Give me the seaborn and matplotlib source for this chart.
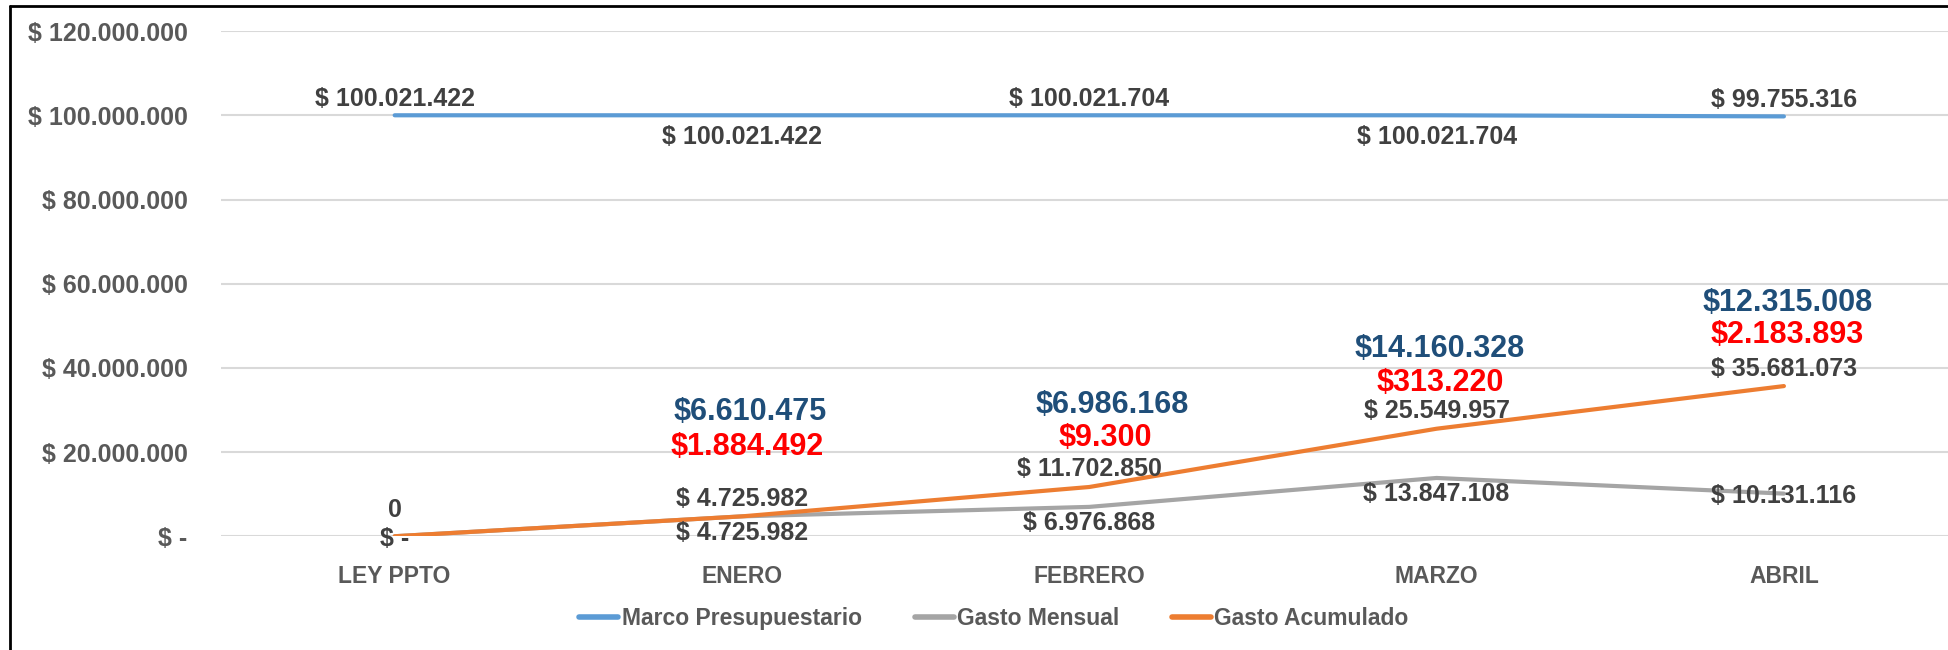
import numpy as np
import pandas as pd
import seaborn as sns
import matplotlib.pyplot as plt
from matplotlib.lines import Line2D

# data
meses = ["LEY PPTO", "ENERO", "FEBRERO", "MARZO", "ABRIL"]
marco = [100021422, 100021422, 100021704, 100021704, 99755316]
gasto_mensual = [0, 4725982, 6976868, 13847108, 10131116]
gasto_acumulado = [0, 4725982, 11702850, 25549957, 35681073]

# extra figures written over the chart (blue and red)
extra_azul = ["$6.610.475", "$6.986.168", "$14.160.328", "$12.315.008"]
extra_rojo = ["$1.884.492", "$9.300", "$313.220", "$2.183.893"]
y_ticks = [0, 20000000, 40000000, 60000000, 80000000, 100000000, 120000000]


def fmt_peso(v):
    if v == 0:
        return "$ -"
    return "$ " + f"{v:,.0f}".replace(",", ".")


def create_chart():
    series = ["Marco Presupuestario", "Gasto Mensual", "Gasto Acumulado"]
    df = pd.DataFrame({
        "mes": meses * 3,
        "valor": marco + gasto_mensual + gasto_acumulado,
        "serie": np.repeat(series, len(meses)),
    })
    colors = {"Marco Presupuestario": "#5B9BD5",
              "Gasto Mensual": "#A5A5A5",
              "Gasto Acumulado": "#ED7D31"}

    sns.set_style("white")
    plt.rcParams["font.family"] = ["Liberation Sans", "DejaVu Sans"]

    fig = plt.figure(figsize=(19.49, 6.5), dpi=100)
    ax = fig.add_axes([0.1134, 0.175, 0.891, 0.777])

    sns.lineplot(data=df, x="mes", y="valor", hue="serie", hue_order=series,
                 palette=colors, linewidth=3, sort=False, legend=False, ax=ax)

    ax.set_xlim(-0.5, 4.5)
    ax.set_ylim(0, 120000000)
    ax.set_yticks(y_ticks)
    ax.set_yticklabels([fmt_peso(v) for v in y_ticks])
    ax.yaxis.grid(True, color="#D9D9D9", linewidth=1.5)
    ax.xaxis.grid(False)
    for s in ax.spines.values():
        s.set_visible(False)
    ax.tick_params(axis="y", length=0, pad=24, labelsize=18, labelcolor="#595959")
    ax.tick_params(axis="x", length=0, pad=21, labelsize=16.5, labelcolor="#595959")
    for t in ax.get_xticklabels() + ax.get_yticklabels():
        t.set_fontweight("bold")
    ax.set_xlabel("")
    ax.set_ylabel("")

    lab = dict(fontsize=18, fontweight="bold", color="#404040",
               ha="center", textcoords="offset points")

    # marco labels alternate above / below
    marco_pos = ["above", "below", "above", "below", "above"]
    for i, v in enumerate(marco):
        if marco_pos[i] == "above":
            ax.annotate(fmt_peso(v), (i, v), xytext=(0, 3), va="bottom", **lab)
        else:
            ax.annotate(fmt_peso(v), (i, v), xytext=(0, -7), va="top", **lab)

    # gasto mensual labels below (centered at the ends)
    mens_pos = ["center", "below", "below", "below", "center"]
    for i, v in enumerate(gasto_mensual):
        if mens_pos[i] == "center":
            ax.annotate(fmt_peso(v), (i, v), xytext=(0, -2), va="center", **lab)
        else:
            ax.annotate(fmt_peso(v), (i, v), xytext=(0, -3), va="top", **lab)

    # gasto acumulado labels above
    for i, v in enumerate(gasto_acumulado):
        txt = "0" if v == 0 else fmt_peso(v)
        ax.annotate(txt, (i, v), xytext=(0, 10 if v == 0 else 4), va="bottom", **lab)

    # blue / red notes over each month
    azul_y = [29500000, 31300000, 44600000, 55500000]
    rojo_y = [21300000, 23300000, 36300000, 47900000]
    dx_azul = [0.025, 0.065, 0.01, 0.01]
    dx_rojo = [0.015, 0.045, 0.01, 0.01]
    for k in range(len(extra_azul)):
        ax.text(k + 1 + dx_azul[k], azul_y[k], extra_azul[k], ha="center", va="center",
                fontsize=22, fontweight="bold", color="#1F4E79")
        ax.text(k + 1 + dx_rojo[k], rojo_y[k], extra_rojo[k], ha="center", va="center",
                fontsize=22, fontweight="bold", color="#FF0000")

    handles = [Line2D([0], [0], color=colors[s], linewidth=4) for s in series]
    leg = fig.legend(handles, series, loc="center", bbox_to_anchor=(0.51, 0.049),
                     ncol=3, frameon=False, fontsize=16.5, handlelength=1.7,
                     handletextpad=0.15, columnspacing=2.3)
    for t in leg.get_texts():
        t.set_color("#595959")
        t.set_fontweight("bold")

    # outer frame (top and left edges visible in the original)
    fig.add_artist(Line2D([0.005, 1.0], [0.991, 0.991], color="black", linewidth=2,
                          transform=fig.transFigure))
    fig.add_artist(Line2D([0.005, 0.005], [0.0, 0.991], color="black", linewidth=2,
                          transform=fig.transFigure))

    fig.savefig("out.png", dpi=100)


if __name__ == "__main__":
    create_chart()
